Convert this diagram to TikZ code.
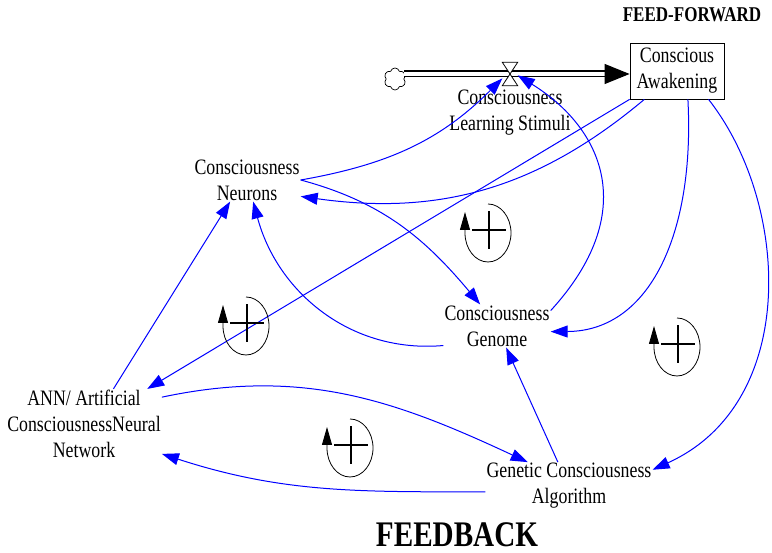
\documentclass[tikz,border=0pt]{standalone}
\usepackage{fontspec}
\setmainfont[FakeStretch=0.81]{Liberation Serif}
\usepackage{tikz}
\usetikzlibrary{arrows.meta, shapes.symbols}
\definecolor{LinkBlue}{HTML}{0000FF}

\begin{document}
\begin{tikzpicture}[x=1pt, y=1pt,
    var/.style={align=center, inner sep=1pt, font=\fontsize{22}{26}\selectfont},
    link/.style={-{Triangle[length=17pt, width=12pt]}, line width=1pt, LinkBlue},
    loopsign/.style={line width=0.8pt, -{Triangle[length=18pt, width=10pt]}}]
  \useasboundingbox (0,0) rectangle (772,553);

  % variables
  \node[var] (neurons) at (247,373) {Consciousness\\Neurons};
  \node[var] (genome) at (497,227) {Consciousness\\Genome};
  \node[var] (ann) at (84,129) {ANN/ Artificial\\ConsciousnessNeural\\Network};
  \node[var] (genetic) at (569,67) {Genetic Consciousness\\Algorithm};
  \node[var, draw, line width=0.8pt, minimum width=94pt, minimum height=56pt] (awak) at (677,482) {Conscious\\Awakening};

  % flow
  \node[cloud, cloud puffs=6, cloud puff arc=150, draw, line width=0.7pt, aspect=0.95, minimum width=22pt, minimum height=22pt, inner sep=0pt] (cloud) at (395,474) {};
  \node[minimum width=15pt, minimum height=23pt, inner sep=0pt] (valve) at (510,479) {};
  \draw[double, double distance=4.8pt, line width=1.1pt, -{Triangle[length=25pt, width=20pt]}] (cloud.east |- valve) -- (awak.west |- valve);
  \draw[line width=0.8pt, fill=white] (valve.north west) -- (valve.south east) -- (valve.south west) -- (valve.north east) -- cycle;
  \node[var] (stimuli) at (510,440) {Consciousness\\Learning Stimuli};

  % links
  \draw[link] (neurons.east) to[out=10, in=-135] (valve.210);
  \draw[link] (genome.16) .. controls (640,340) and (604,424) .. (valve.-10);
  \draw[link] (awak.-139) to[out=-140, in=-8] (neurons.-17);
  \draw[link] (awak.south west) -- (ann.29);
  \draw[link] (neurons.east) to[out=-15, in=130] (genome.128);
  \draw[link] (genome.200) to[out=185, in=-75] (neurons.-74);
  \draw[link] (ann.50) -- (neurons.-128);
  \draw[link] (awak.-69) .. controls (695,320) and (650,222) .. (genome.-6);
  \draw[link] (awak.-42) .. controls (790,350) and (800,150) .. (genetic.11);
  \draw[link] (ann.19) to[out=12, in=155] (genetic.150);
  \draw[link] (genetic.115) -- (genome.-67);
  \draw[link] (genetic.184) to[out=180, in=-18] (ann.-21);

  % loop signs
  \foreach \cx/\cy in {488/320, 246/227, 350/105, 677/206} {
    \draw[loopsign] (\cx,\cy+29) arc[start angle=90, end angle=-180, x radius=23pt, y radius=29pt] -- ++(0,21);
    \draw[line width=1.6pt] (\cx-16,\cy+3) -- (\cx+18,\cy+3) (\cx+1,\cy-16) -- (\cx+1,\cy+22);
  }

  \node[font=\bfseries\fontsize{21}{24}\selectfont] (ff) at (692,538) {FEED-FORWARD};
  \node[font=\bfseries\fontsize{36}{40}\selectfont] (fb) at (457,18) {FEEDBACK};
\end{tikzpicture}
\end{document}
